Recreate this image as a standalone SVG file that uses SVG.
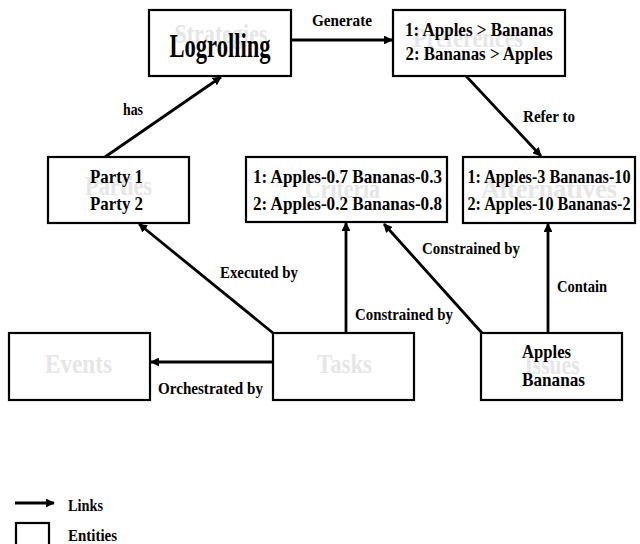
<svg xmlns="http://www.w3.org/2000/svg" width="640" height="544" viewBox="0 0 640 544">
<defs>
<marker id="ah" viewBox="0 0 10 10" refX="9" refY="5" markerWidth="3.2" markerHeight="3.2" orient="auto" markerUnits="strokeWidth">
<path d="M0,0 L10,5 L0,10 z" fill="#000"/>
</marker>
<style>
.box{fill:#fff;stroke:#000;stroke-width:2.2}
.wm{font-family:"Liberation Serif","Times New Roman",serif;font-weight:bold;font-size:27px;fill:#e6e6e6;text-anchor:middle}
.t{font-family:"Liberation Serif","Times New Roman",serif;font-weight:bold;font-size:19px;fill:#000;text-anchor:middle}
.big{font-size:33px}
.s18{font-size:18px}
.st{text-anchor:start}
.lbl{font-family:"Liberation Serif","Times New Roman",serif;font-weight:bold;font-size:16px;fill:#000}
.ln{stroke:#000;stroke-width:2.8;fill:none;marker-end:url(#ah)}
</style>
</defs>
<rect width="640" height="544" fill="#fff"/>

<g id="strategies">
<rect class="box" x="149" y="10" width="142" height="66"/>
<text class="wm" x="221" y="43" textLength="93" lengthAdjust="spacingAndGlyphs">Strategies</text>
<text class="t big" x="220" y="57" textLength="101" lengthAdjust="spacingAndGlyphs">Logrolling</text>
</g>

<g id="preferences">
<rect class="box" x="393" y="10" width="172" height="66"/>
<text class="wm" x="468" y="47" textLength="110" lengthAdjust="spacingAndGlyphs">Preferences</text>
<text class="t s18" x="479" y="36" textLength="148" lengthAdjust="spacingAndGlyphs">1: Apples &gt; Bananas</text>
<text class="t s18" x="479" y="60" textLength="147" lengthAdjust="spacingAndGlyphs">2: Bananas &gt; Apples</text>
</g>

<g id="parties">
<rect class="box" x="48" y="157" width="141" height="66"/>
<text class="wm" x="118.5" y="195" textLength="67" lengthAdjust="spacingAndGlyphs">Parties</text>
<text class="t" x="116.5" y="183" textLength="53" lengthAdjust="spacingAndGlyphs">Party 1</text>
<text class="t" x="116.5" y="210" textLength="53" lengthAdjust="spacingAndGlyphs">Party 2</text>
</g>

<g id="criteria">
<rect class="box" x="246" y="157" width="201" height="65"/>
<text class="wm" x="342.5" y="198" textLength="75" lengthAdjust="spacingAndGlyphs">Criteria</text>
<text class="t" x="347.5" y="183" textLength="189" lengthAdjust="spacingAndGlyphs">1: Apples-0.7 Bananas-0.3</text>
<text class="t" x="347.5" y="210" textLength="189" lengthAdjust="spacingAndGlyphs">2: Apples-0.2 Bananas-0.8</text>
</g>

<g id="alternatives">
<rect class="box" x="463" y="157" width="172" height="66"/>
<text class="wm" x="549" y="198" textLength="136" lengthAdjust="spacingAndGlyphs">Alternatives</text>
<text class="t" x="549" y="183" textLength="163" lengthAdjust="spacingAndGlyphs">1: Apples-3 Bananas-10</text>
<text class="t" x="549" y="210" textLength="163" lengthAdjust="spacingAndGlyphs">2: Apples-10 Bananas-2</text>
</g>

<g id="events">
<rect class="box" x="9" y="333" width="141" height="67"/>
<text class="wm" x="78.5" y="373" textLength="67" lengthAdjust="spacingAndGlyphs">Events</text>
</g>

<g id="tasks">
<rect class="box" x="273" y="333" width="141" height="67"/>
<text class="wm" x="344.5" y="373" textLength="55" lengthAdjust="spacingAndGlyphs">Tasks</text>
</g>

<g id="issues">
<rect class="box" x="481" y="333" width="141" height="67"/>
<text class="wm" x="552" y="374" textLength="55" lengthAdjust="spacingAndGlyphs">Issues</text>
<text class="t st" x="522" y="358" textLength="49" lengthAdjust="spacingAndGlyphs">Apples</text>
<text class="t st" x="522" y="386" textLength="63" lengthAdjust="spacingAndGlyphs">Bananas</text>
</g>

<g id="connectors">
<line class="ln" x1="291" y1="40" x2="392" y2="40"/>
<text class="lbl" x="312" y="26" textLength="60" lengthAdjust="spacingAndGlyphs">Generate</text>
<line class="ln" x1="105" y1="157" x2="221" y2="77"/>
<text class="lbl" x="123" y="115" textLength="20" lengthAdjust="spacingAndGlyphs">has</text>
<line class="ln" x1="466" y1="76" x2="541" y2="156"/>
<text class="lbl" x="523" y="122" textLength="52" lengthAdjust="spacingAndGlyphs">Refer to</text>
<line class="ln" x1="273" y1="333" x2="139" y2="224"/>
<text class="lbl" x="220" y="278" textLength="78" lengthAdjust="spacingAndGlyphs">Executed by</text>
<line class="ln" x1="346" y1="333" x2="346" y2="223"/>
<text class="lbl" x="355" y="320" textLength="98" lengthAdjust="spacingAndGlyphs">Constrained by</text>
<line class="ln" x1="482" y1="333" x2="384" y2="224"/>
<text class="lbl" x="422" y="254" textLength="98" lengthAdjust="spacingAndGlyphs">Constrained by</text>
<line class="ln" x1="548" y1="333" x2="548" y2="224"/>
<text class="lbl" x="557" y="292" textLength="50" lengthAdjust="spacingAndGlyphs">Contain</text>
<line class="ln" x1="273" y1="362" x2="151" y2="362"/>
<text class="lbl" x="158" y="394" textLength="105" lengthAdjust="spacingAndGlyphs">Orchestrated by</text>
</g>

<g id="legend">
<line class="ln" x1="15" y1="503" x2="54" y2="503"/>
<text class="lbl" x="68" y="511" textLength="35" lengthAdjust="spacingAndGlyphs">Links</text>
<rect class="box" x="16" y="523" width="33" height="30"/>
<text class="lbl" x="68" y="541" textLength="49" lengthAdjust="spacingAndGlyphs">Entities</text>
</g>
</svg>
